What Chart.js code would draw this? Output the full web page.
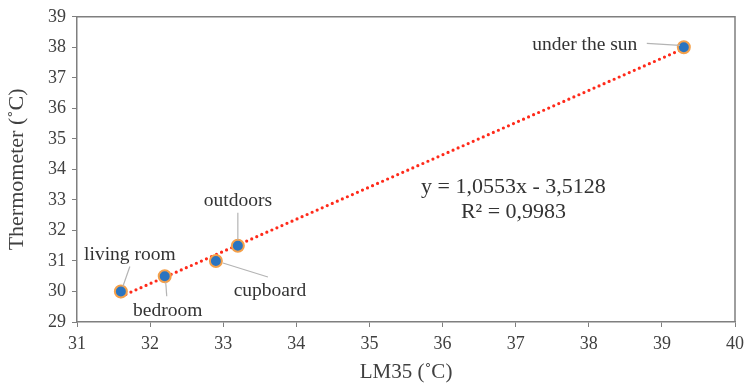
<!DOCTYPE html>
<html>
<head>
<meta charset="utf-8">
<script src="https://cdn.jsdelivr.net/npm/chart.js@4/dist/chart.umd.min.js"></script>
<style>
  html, body { margin: 0; padding: 0; background: #fff; }
  #wrap { width: 750px; height: 389px; position: relative; }
</style>
</head>
<body>
<div id="wrap"><canvas id="chart" width="750" height="389"></canvas></div>
<script>
const places = ['living room', 'bedroom', 'cupboard', 'outdoors', 'under the sun'];
const lm35 = [31.6, 32.2, 32.9, 33.2, 39.3];
const thermometer = [30, 30.5, 31, 31.5, 38];
const slope = 1.0553;
const intercept = -3.5128;
const equationText = ['y = 1,0553x - 3,5128', 'R\u00b2 = 0,9983'];

const FONT = '"Liberation Serif", "Times New Roman", serif';

// label offsets from the point: text centre and leader line ends
const labelLayout = [
  { dx: 9, dy: -37, l1: [2, -5], l2: [9, -25] },
  { dx: 3, dy: 35, l1: [1, 6], l2: [2, 20] },
  { dx: 54, dy: 30, l1: [7, 2], l2: [52, 16] },
  { dx: 0, dy: -45, l1: [0, -6], l2: [0, -33] },
  { dx: -99, dy: -2, l1: [-4, -2], l2: [-37, -4] }
];

const trendX = [lm35[0], lm35[lm35.length - 1]];
const trendPts = trendX.map(x => ({ x, y: slope * x + intercept }));

const labelsPlugin = {
  id: 'labels',
  afterDatasetsDraw(chart) {
    const ctx = chart.ctx;
    const xs = chart.scales.x, ys = chart.scales.y;
    const a = chart.chartArea;
    ctx.save();
    // box around plot
    ctx.strokeStyle = '#7f7f7f';
    ctx.lineWidth = 1.5;
    ctx.beginPath();
    ctx.moveTo(a.left, a.top);
    ctx.lineTo(a.right, a.top);
    ctx.lineTo(a.right, a.bottom);
    ctx.stroke();

    ctx.font = '19.5px ' + FONT;
    ctx.fillStyle = '#333333';
    ctx.textAlign = 'center';
    ctx.textBaseline = 'middle';
    places.forEach((name, i) => {
      const px = xs.getPixelForValue(lm35[i]);
      const py = ys.getPixelForValue(thermometer[i]);
      const L = labelLayout[i];
      ctx.strokeStyle = '#b4b4b4';
      ctx.lineWidth = 1.2;
      ctx.beginPath();
      ctx.moveTo(px + L.l1[0], py + L.l1[1]);
      ctx.lineTo(px + L.l2[0], py + L.l2[1]);
      ctx.stroke();
      ctx.fillText(name, px + L.dx, py + L.dy);
    });

    ctx.font = '22px ' + FONT;
    const ex = xs.getPixelForValue(36.97);
    ctx.fillText(equationText[0], ex, ys.getPixelForValue(33.4));
    ctx.fillText(equationText[1], ex, ys.getPixelForValue(32.6));
    ctx.restore();
  }
};

new Chart(document.getElementById('chart'), {
  type: 'scatter',
  data: {
    datasets: [
      {
        type: 'line',
        data: trendPts,
        borderColor: '#ff2a1a',
        borderWidth: 3.2,
        borderDash: [0, 5.5],
        borderCapStyle: 'round',
        pointRadius: 0,
        fill: false,
        order: 2
      },
      {
        data: lm35.map((x, i) => ({ x, y: thermometer[i] })),
        backgroundColor: '#2a74c0',
        borderColor: '#f4a04a',
        borderWidth: 2,
        pointRadius: 6,
        order: 1
      }
    ]
  },
  options: {
    responsive: false,
    animation: false,
    layout: { padding: { top: 15, right: 12, left: 0, bottom: 0 } },
    plugins: { legend: { display: false }, tooltip: { enabled: false } },
    scales: {
      x: {
        type: 'linear', min: 31, max: 40,
        ticks: { stepSize: 1, color: '#404040', font: { family: FONT, size: 18 }, padding: 6 },
        grid: { drawOnChartArea: false, drawTicks: true, tickLength: 5, color: '#7f7f7f' },
        border: { color: '#7f7f7f', width: 1.5 },
        title: { display: true, text: 'LM35 (\u02daC)', color: '#404040', font: { family: FONT, size: 21 }, padding: { top: 2 } },
        afterFit(s) { s.height = 67; }
      },
      y: {
        type: 'linear', min: 29, max: 39,
        ticks: { stepSize: 1, color: '#404040', font: { family: FONT, size: 18 }, padding: 6 },
        grid: { drawOnChartArea: false, drawTicks: true, tickLength: 5, color: '#7f7f7f' },
        border: { color: '#7f7f7f', width: 1.5 },
        title: { display: true, text: 'Thermometer (\u02daC)', color: '#404040', font: { family: FONT, size: 22 }, padding: { bottom: 0 } },
        afterFit(s) { s.width = 77; }
      }
    }
  },
  plugins: [labelsPlugin]
});
</script>
</body>
</html>
